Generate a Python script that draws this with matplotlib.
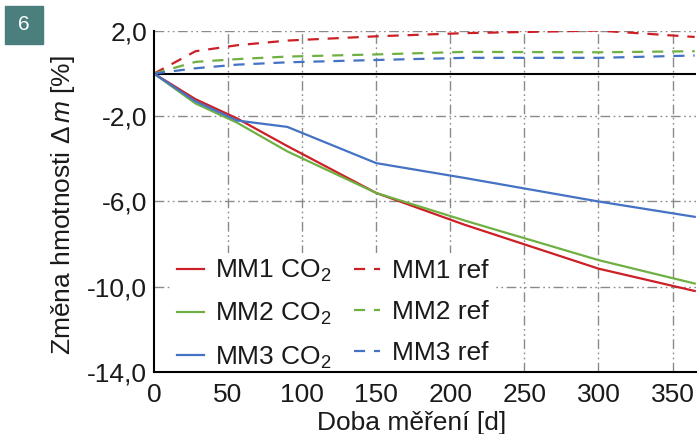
import matplotlib
matplotlib.use("Agg")
import matplotlib.pyplot as plt
from matplotlib.patches import Rectangle

plt.rcParams['font.family'] = ['Liberation Sans', 'DejaVu Sans']
plt.rcParams['mathtext.fontset'] = 'custom'
plt.rcParams['mathtext.rm'] = 'Liberation Sans'
plt.rcParams['mathtext.it'] = 'Liberation Sans:italic'

# measurement days
days = [0, 28, 56, 90, 150, 210, 300, 365]

# mass change [%] in CO2 environment
mm1_co2 = [0, -1.2, -2.1, -3.4, -5.6, -7.1, -9.15, -10.2]
mm2_co2 = [0, -1.4, -2.3, -3.65, -5.6, -6.9, -8.75, -9.85]
mm3_co2 = [0, -1.3, -2.2, -2.5, -4.2, -4.9, -6.0, -6.72]

# reference samples
mm1_ref = [0, 1.05, 1.33, 1.55, 1.75, 1.9, 2.02, 1.72]
mm2_ref = [0, 0.55, 0.68, 0.8, 0.9, 1.02, 1.0, 1.05]
mm3_ref = [0, 0.25, 0.42, 0.53, 0.64, 0.74, 0.74, 0.85]

x_ticks = [0, 50, 100, 150, 200, 250, 300, 350]
y_ticks = [2, -2, -6, -10, -14]
y_tick_labels = ['2,0', '-2,0', '-6,0', '-10,0', '-14,0']

red = '#cc1f26'
green = '#6fb043'
blue = '#4472c4'

fig = plt.figure(figsize=(6.99, 4.34), dpi=100)
ax = fig.add_axes([0.2203, 0.1429, 0.7757, 0.7857])

grid_style = dict(color='#8a8a8a', lw=1.0, linestyle=(0, (7, 2.5, 1.2, 2.5, 1.2, 2.5)))
for t in x_ticks[1:]:
    ax.axvline(t, zorder=1, **grid_style)
for t in y_ticks[:-1]:
    ax.axhline(t, zorder=1, **grid_style)
ax.axhline(0, color='black', lw=1.5, zorder=2)

lw = 1.6
ax.plot(days, mm1_co2, color=red, lw=lw, label='MM1 CO$_2$', zorder=3)
ax.plot(days, mm2_co2, color=green, lw=lw, label='MM2 CO$_2$', zorder=3)
ax.plot(days, mm3_co2, color=blue, lw=lw, label='MM3 CO$_2$', zorder=3)
ax.plot(days, mm1_ref, color=red, lw=lw, ls=(0, (5, 4)), label='MM1 ref', zorder=3)
ax.plot(days, mm2_ref, color=green, lw=lw, ls=(0, (5, 4)), label='MM2 ref', zorder=3)
ax.plot(days, mm3_ref, color=blue, lw=lw, ls=(0, (5, 4)), label='MM3 ref', zorder=3)

ax.set_xlim(0, 366)
ax.set_ylim(-14, 2)
ax.set_xticks(x_ticks)
ax.set_yticks(y_ticks)
ax.set_yticklabels(y_tick_labels)
ax.tick_params(length=0, labelsize=19, labelcolor='#1a1a1a')
ax.tick_params(axis='x', pad=8)
ax.tick_params(axis='y', pad=5)

for s in ['top', 'right']:
    ax.spines[s].set_visible(False)
for s in ['left', 'bottom']:
    ax.spines[s].set_color('black')
    ax.spines[s].set_linewidth(1.5)
    ax.spines[s].set_zorder(7)

ax.set_xlabel('Doba měření [d]', fontsize=19, color='#1a1a1a')
ax.xaxis.set_label_coords(0.476, -0.114)
ax.set_ylabel('Změna hmotnosti $\\mathit{\\Delta\\,m}$ [%]', fontsize=19,
              color='#1a1a1a')
ax.yaxis.set_label_coords(-0.142, 0.49)

leg = ax.legend(ncol=2, loc='lower left', bbox_to_anchor=(0.033, -0.012),
                borderaxespad=0, fontsize=19, frameon=True, facecolor='white',
                edgecolor='none', framealpha=1, handlelength=1.0,
                handletextpad=0.45, labelspacing=0.65, columnspacing=0.8,
                borderpad=0.2)
leg.set_zorder(5)
for txt in leg.get_texts():
    txt.set_color('#1a1a1a')

# panel badge
fig.patches.append(Rectangle((5 / 699, 1 - 44 / 434), 38 / 699, 38 / 434,
                             transform=fig.transFigure, color='#4a7f7e'))
fig.text(24 / 699, 1 - 25 / 434, '6', color='white', fontsize=15,
         ha='center', va='center')

fig.savefig('out.png', dpi=100)
